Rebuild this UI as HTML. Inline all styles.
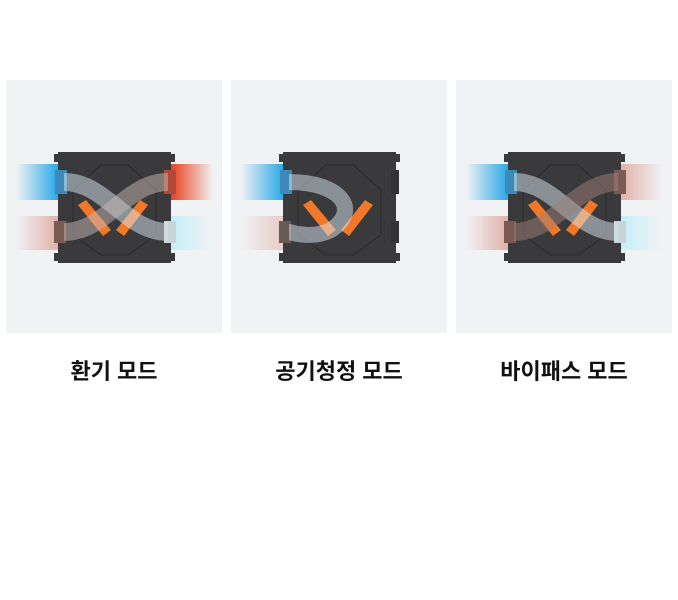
<!DOCTYPE html>
<html><head><meta charset="utf-8"><style>
body{margin:0;width:678px;height:600px;background:#fff;overflow:hidden;position:relative;font-family:"Liberation Sans","Noto Sans CJK KR",sans-serif}
.p{position:absolute;top:80px;width:216px;height:253px;background:#f1f2f4}
.l{position:absolute;top:354px;width:216px;text-align:center;font-size:22px;font-weight:bold;color:#111}
svg{position:absolute;left:0;top:0}
</style></head><body>
<div class="p" style="left:6px"></div><div class="p" style="left:231px"></div><div class="p" style="left:456px"></div>
<svg width="678" height="600">
<defs>
<linearGradient id="bl" x1="1" x2="0"><stop offset="0" stop-color="#2aa8e8"/><stop offset="1" stop-color="#2aa8e8" stop-opacity="0"/></linearGradient>
<linearGradient id="rd" x1="0" x2="1"><stop offset="0" stop-color="#e8401c"/><stop offset="1" stop-color="#e8401c" stop-opacity="0"/></linearGradient>
<linearGradient id="pk" x1="1" x2="0"><stop offset="0" stop-color="#d07060" stop-opacity=".5"/><stop offset="1" stop-color="#d07060" stop-opacity="0"/></linearGradient>
<linearGradient id="cy" x1="0" x2="1"><stop offset="0" stop-color="#bfeefa" stop-opacity=".9"/><stop offset="1" stop-color="#bfeefa" stop-opacity="0"/></linearGradient>
<g id="dev">
<rect x="52" y="72" width="113" height="111" fill="#3a3a3c"/>
<rect x="48" y="74" width="10" height="8" fill="#3a3a3c"/><rect x="159" y="74" width="10" height="8" fill="#3a3a3c"/>
<rect x="48" y="173" width="10" height="8" fill="#3a3a3c"/><rect x="159" y="173" width="10" height="8" fill="#3a3a3c"/>
<path d="M95 85 L122 85 L150 110 L150 155 L122 175 L95 175 L67 155 L67 110 Z" fill="none" stroke="#2a2a2a" stroke-width="1"/>
<path d="M72 125 L80 120 L105 150 L97 156 Z M142 125 L134 120 L110 150 L118 156 Z" fill="#f07828"/>
</g>
</defs>
<g transform="translate(6,80)">
<rect x="10" y="84" width="42" height="36" fill="url(#bl)"/><rect x="165" y="84" width="42" height="36" fill="url(#rd)"/>
<rect x="10" y="136" width="42" height="34" fill="url(#pk)"/><rect x="165" y="136" width="42" height="34" fill="url(#cy)"/>
<use href="#dev"/>
<rect x="49" y="90" width="12" height="24" fill="#3d8ab8"/><rect x="158" y="90" width="12" height="24" fill="#b04a38"/>
<rect x="48" y="141" width="12" height="22" fill="#7a5a52"/><rect x="158" y="141" width="12" height="22" fill="#c8d4d8"/>
<path d="M58 102 C100 102 120 152 162 152" stroke="#d8e8f0" stroke-opacity=".5" stroke-width="18" fill="none"/>
<path d="M58 152 C100 152 120 102 162 102" stroke="#c8b8b4" stroke-opacity=".5" stroke-width="18" fill="none"/>
</g>
<g transform="translate(231,80)">
<rect x="10" y="84" width="42" height="36" fill="url(#bl)"/>
<rect x="10" y="136" width="42" height="34" fill="url(#pk)" opacity=".6"/>
<use href="#dev"/>
<rect x="49" y="90" width="12" height="24" fill="#3d8ab8"/><rect x="160" y="90" width="8" height="24" fill="#333"/>
<rect x="48" y="141" width="12" height="22" fill="#6a5a56"/><rect x="160" y="141" width="8" height="22" fill="#333"/>
<path d="M58 102 C110 102 130 130 100 150 C80 160 60 152 58 152" stroke="#d8e8f0" stroke-opacity=".5" stroke-width="16" fill="none"/>
</g>
<g transform="translate(456,80)">
<rect x="10" y="84" width="42" height="36" fill="url(#bl)"/><rect x="165" y="84" width="42" height="36" fill="url(#pk)" transform="rotate(180 186 102)"/>
<rect x="10" y="136" width="42" height="34" fill="url(#pk)"/><rect x="165" y="136" width="42" height="34" fill="url(#cy)"/>
<use href="#dev"/>
<rect x="49" y="90" width="12" height="24" fill="#3d8ab8"/><rect x="158" y="90" width="12" height="24" fill="#7a5a52"/>
<rect x="48" y="141" width="12" height="22" fill="#7a5a52"/><rect x="158" y="141" width="12" height="22" fill="#c8d4d8"/>
<path d="M58 102 C100 102 120 152 162 152" stroke="#d8e8f0" stroke-opacity=".5" stroke-width="18" fill="none"/>
<path d="M58 152 C100 152 120 102 162 102" stroke="#a08078" stroke-opacity=".5" stroke-width="18" fill="none"/>
</g>
</svg>
<div class="l" style="left:6px">환기 모드</div><div class="l" style="left:231px">공기청정 모드</div><div class="l" style="left:456px">바이패스 모드</div>
</body></html>
